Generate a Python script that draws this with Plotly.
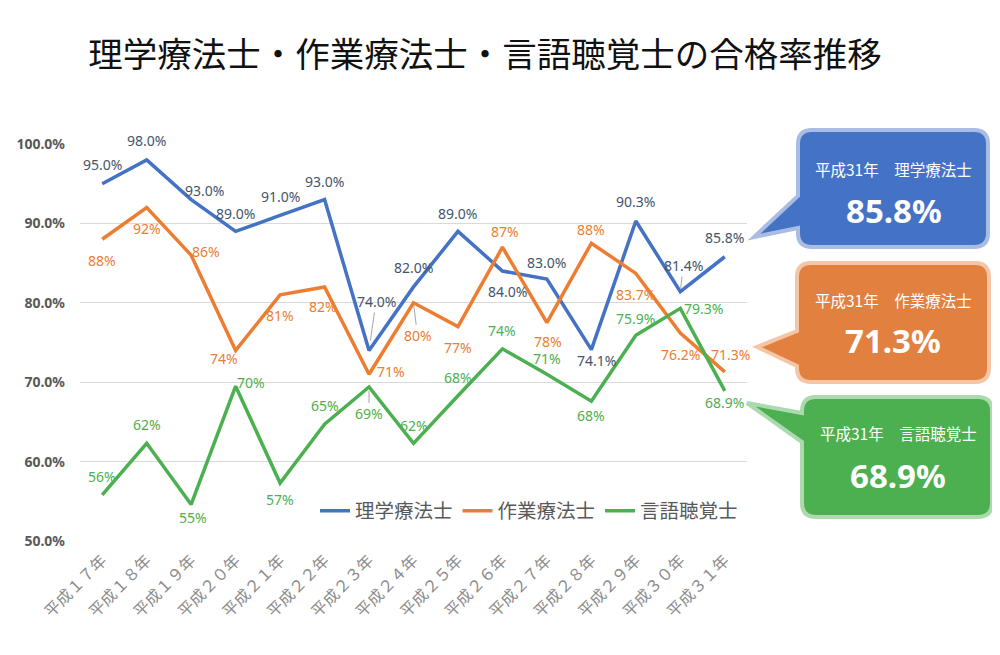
import plotly.graph_objects as go

# ---------------- data ----------------
categories = ["平成１７年", "平成１８年", "平成１９年", "平成２０年", "平成２１年", "平成２２年",
              "平成２３年", "平成２４年", "平成２５年", "平成２６年", "平成２７年", "平成２８年",
              "平成２９年", "平成３０年", "平成３１年"]
series_names = ["理学療法士", "作業療法士", "言語聴覚士"]
pt_values = [95.0, 98.0, 93.0, 89.0, 91.0, 93.0, 74.0, 82.0, 89.0, 84.0, 83.0, 74.1, 90.3, 81.4, 85.8]
ot_values = [88.0, 92.0, 86.0, 74.0, 81.0, 82.0, 71.0, 80.0, 77.0, 87.0, 77.5, 87.5, 83.7, 76.2, 71.3]
st_values = [55.8, 62.3, 54.6, 69.5, 57.3, 64.7, 69.4, 62.3, 68.3, 74.2, 71.0, 67.6, 75.9, 79.3, 68.9]
pt_labels = ["95.0%", "98.0%", "93.0%", "89.0%", "91.0%", "93.0%", "74.0%", "82.0%", "89.0%",
             "84.0%", "83.0%", "74.1%", "90.3%", "81.4%", "85.8%"]
ot_labels = ["88%", "92%", "86%", "74%", "81%", "82%", "71%", "80%", "77%", "87%", "78%", "88%",
             "83.7%", "76.2%", "71.3%"]
st_labels = ["56%", "62%", "55%", "70%", "57%", "65%", "69%", "62%", "68%", "74%", "71%", "68%",
             "75.9%", "79.3%", "68.9%"]
y_ticks = [50, 60, 70, 80, 90, 100]
callout_year = "平成31年"

# ---------------- styles ----------------
line_colors = ["#4472C4", "#ED7D31", "#4CAF50"]
label_colors = ["#44546A", "#ED7D31", "#4CAF50"]
box_fill = ["#4472C4", "#E2803F", "#4CAF50"]
box_border = ["#A9BCE4", "#F5C6A6", "#ADD9AE"]

# label offsets (dx, dy) in screen px relative to the point; optional 3rd = leader standoff
pt_off = [(0, -19), (0, -19), (13, -9), (0, -18), (0, -19), (0, -18), (7, -49, 10), (0, -19), (0, -18),
          (5, 20), (0, -16), (5, 11), (0, -20), (3, -26, 3), (0, -19)]
ot_off = [(0, 21), (0, 21), (15, -4), (-12, 8), (0, 21), (-2, 20), (22, -3), (4, 33, 3), (0, 21),
          (3, -16), (1, 19), (0, -14), (0, 21), (0, 22), (6, -17)]
st_off = [(0, -18), (0, -19), (2, 13), (15, -4), (0, 16), (0, -19), (0, 27, 4), (0, -18), (0, -18),
          (0, -18), (0, -16), (0, 14), (0, -17), (23, 0), (0, 12)]

# target screen geometry (page body has an 8px margin)
OFF = 8
L, R, T, B = 80, 747, 144, 541
W, H = 1000, 655


def P(x, y):
    return (x - L) / (R - L), (B - y) / (B - T)


def callout_path(x0, y0, x1, y1, r, tb1, tip, tb2):
    def pt(x, y):
        px, py = P(x, y)
        return f"{px:.5f},{py:.5f}"
    d = f"M{pt(x0 + r, y0)} L{pt(x1 - r, y0)} Q{pt(x1, y0)} {pt(x1, y0 + r)} "
    d += f"L{pt(x1, y1 - r)} Q{pt(x1, y1)} {pt(x1 - r, y1)} L{pt(x0 + r, y1)} "
    d += f"Q{pt(x0, y1)} {pt(x0, y1 - r)} L{pt(x0, tb2)} L{pt(tip[0], tip[1])} L{pt(x0, tb1)} "
    d += f"L{pt(x0, y0 + r)} Q{pt(x0, y0)} {pt(x0 + r, y0)} Z"
    return d


fig = go.Figure()
all_vals = [pt_values, ot_values, st_values]
all_labels = [pt_labels, ot_labels, st_labels]
all_offs = [pt_off, ot_off, st_off]

for i in range(3):
    fig.add_trace(go.Scatter(
        x=categories, y=all_vals[i], mode="lines", name=series_names[i],
        line=dict(color=line_colors[i], width=3.5), hoverinfo="skip"))

annotations = []
for i in range(3):
    for j, (cat, v, lab) in enumerate(zip(categories, all_vals[i], all_labels[i])):
        off = all_offs[i][j]
        font = dict(family="Noto Sans, DejaVu Sans", size=14, color=label_colors[i])
        if len(off) == 3:
            annotations.append(dict(x=cat, y=v, xref="x", yref="y", text=lab, showarrow=True,
                                    ax=off[0], ay=off[1], arrowhead=0, arrowwidth=1,
                                    arrowcolor="#A6A6A6", standoff=off[2], font=font))
        else:
            annotations.append(dict(x=cat, y=v, xref="x", yref="y", text=lab, showarrow=False,
                                    xanchor="center", yanchor="middle",
                                    xshift=off[0], yshift=-off[1], font=font))

# callouts (screen px)
boxes = [
    dict(rect=(798, 130, 988, 247), tb=(196, 228), tip=(754, 237), sub=(893, 169), big=(894, 210)),
    dict(rect=(797, 263, 989, 382), tb=(331, 366), tip=(757, 347), sub=(893, 300), big=(893, 340)),
    dict(rect=(802, 397, 992, 517), tb=(413, 442), tip=(747, 403), sub=(898, 433), big=(898, 475)),
]
shapes = []
for i, bx in enumerate(boxes):
    x0, y0, x1, y1 = bx["rect"]
    shapes.append(dict(type="path", xref="paper", yref="paper",
                       path=callout_path(x0, y0, x1, y1, 14, bx["tb"][0], bx["tip"], bx["tb"][1]),
                       fillcolor=box_fill[i], line=dict(color=box_border[i], width=4), layer="above"))
    sx, sy = P(*bx["sub"])
    annotations.append(dict(x=sx, y=sy, xref="paper", yref="paper", showarrow=False,
                            xanchor="center", yanchor="middle",
                            text=f"{callout_year}　{series_names[i]}",
                            font=dict(family="Noto Sans CJK JP", size=15.5, color="white")))
    gx, gy = P(*bx["big"])
    annotations.append(dict(x=gx, y=gy, xref="paper", yref="paper", showarrow=False,
                            xanchor="center", yanchor="middle",
                            text=f"<b>{all_vals[i][-1]:.1f}%</b>",
                            font=dict(family="Noto Sans, DejaVu Sans", size=33, color="white")))

fig.update_layout(
    width=W, height=H,
    margin=dict(l=L - OFF, r=W - R + OFF, t=T - OFF, b=H - B + OFF, autoexpand=False),
    paper_bgcolor="white", plot_bgcolor="white",
    title=dict(text="理学療法士・作業療法士・言語聴覚士の合格率推移", x=(485 - OFF) / W, xref="container",
               xanchor="center", y=1 - (55 - OFF) / H, yref="container", yanchor="middle",
               font=dict(family="Noto Sans CJK JP", size=34.5, color="#111111")),
    showlegend=True,
    legend=dict(orientation="h", x=(315 - L) / (R - L), y=(B - 511) / (B - T), xanchor="left",
                yanchor="middle", bgcolor="rgba(0,0,0,0)",
                font=dict(family="Noto Sans CJK JP", size=19.5, color="#595959")),
    xaxis=dict(type="category", range=[-0.5, 14.5], showgrid=False, showline=False, zeroline=False,
               automargin=False, tickangle=-45, ticks="", ticklabelstandoff=6,
               tickfont=dict(family="Noto Sans CJK JP", size=16, color="#8C8C8C")),
    yaxis=dict(range=[50, 100], tickvals=y_ticks, ticktext=[f"<b>{v:.1f}%</b>" for v in y_ticks],
               showgrid=True, gridcolor="#D9D9D9", gridwidth=1, zeroline=False, showline=False,
               automargin=False, ticks="", ticklabelstandoff=14,
               tickfont=dict(family="Noto Sans, DejaVu Sans", size=14, color="#595959")),
    annotations=annotations,
    shapes=shapes,
)

fig.write_html("out.html")
